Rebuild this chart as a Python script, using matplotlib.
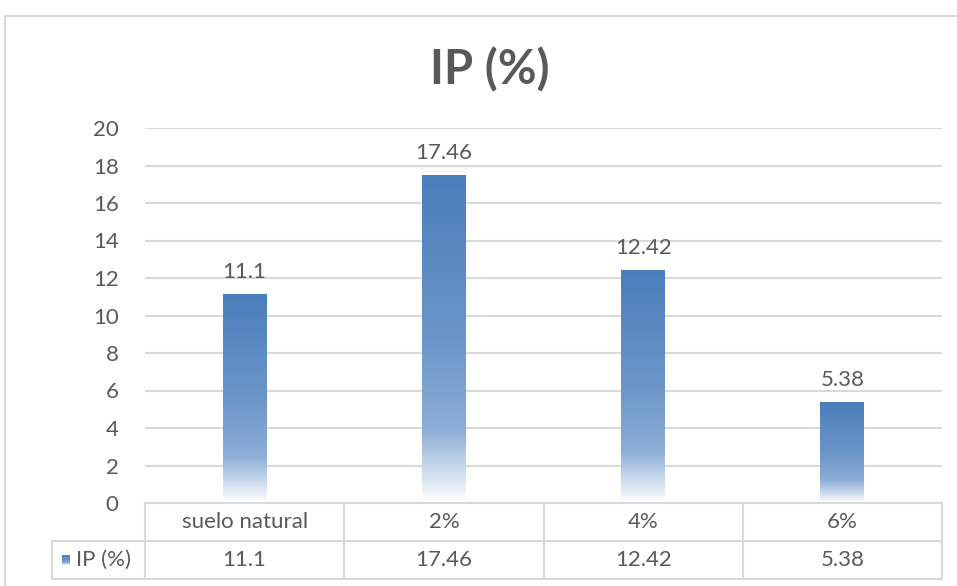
import numpy as np
import matplotlib
matplotlib.use("Agg")
import matplotlib.pyplot as plt
from matplotlib.colors import LinearSegmentedColormap
from matplotlib.patches import Rectangle

plt.rcParams['font.family'] = ['Lato', 'DejaVu Sans']

# Data
categories = ["suelo natural", "2%", "4%", "6%"]
ip_values = [11.1, 17.46, 12.42, 5.38]
value_labels = ["11.1", "17.46", "12.42", "5.38"]
series_name = "IP (%)"
y_ticks = [0, 2, 4, 6, 8, 10, 12, 14, 16, 18, 20]

TXT = "#595959"
GRID = "#d9d9d9"
FS = 16

W, H = 957, 586
fig = plt.figure(figsize=(W / 100, H / 100), dpi=100)

def fx(px):
    return px / W

def fy(py):
    return 1 - py / H

# outer chart frame
fig.patches.append(Rectangle((fx(5), fy(700)), fx(1100), (700 - 16) / H,
                             transform=fig.transFigure, fill=False,
                             edgecolor=GRID, linewidth=1.5))

left, right, top, bottom = 145, 942, 128, 503
ax = fig.add_axes([fx(left), fy(bottom), fx(right - left), (bottom - top) / H])

# gradient: dark blue at the top of the bar, fading to white at the base
cmap = LinearSegmentedColormap.from_list(
    "bar", [(0.0, "#4a7ebb"), (0.5, "#6b96c9"), (0.78, "#8eaed7"), (1.0, "#ffffff")])
grad = np.linspace(0, 1, 256).reshape(-1, 1)

x = np.arange(len(categories))
bars = ax.bar(x, ip_values, width=0.22, color="none", edgecolor="none", zorder=3)
for b in bars:
    x0, w, h = b.get_x(), b.get_width(), b.get_height()
    ax.imshow(grad, cmap=cmap, aspect="auto", extent=(x0, x0 + w, 0, h),
              origin="upper", zorder=3, interpolation="bilinear")

for xi, v, lab in zip(x, ip_values, value_labels):
    ax.annotate(lab, (xi, v), xytext=(0, 9), textcoords="offset points",
                ha="center", va="bottom", fontsize=FS, color=TXT)

ax.set_xlim(-0.5, len(categories) - 0.5)
ax.set_ylim(0, 20)
ax.set_yticks(y_ticks)
ax.set_xticks([])
ax.yaxis.grid(True, color=GRID, linewidth=1.5)
ax.set_axisbelow(True)
for s in ax.spines.values():
    s.set_visible(False)
ax.tick_params(axis="y", length=0, pad=19, labelsize=FS, labelcolor=TXT)

fig.text(fx(490), fy(70), "IP (%)", fontsize=34, fontweight="bold",
         color=TXT, ha="center", va="center")

# data table under the plot
tab = fig.add_axes([fx(left), fy(579), fx(right - left), (579 - bottom) / H])
hdr = -0.5 - (left - 52) / ((right - left) / len(categories))
lk = dict(color=GRID, linewidth=1.5, clip_on=False)
tab.plot([-0.5, len(categories) - 0.5], [2, 2], **lk)
tab.plot([hdr, len(categories) - 0.5], [1, 1], **lk)
tab.plot([hdr, len(categories) - 0.5], [0, 0], **lk)
tab.plot([hdr, hdr], [0, 1], **lk)
for b in np.arange(len(categories) + 1) - 0.5:
    tab.plot([b, b], [0, 2], **lk)
for xi, cat, lab in zip(x, categories, value_labels):
    tab.text(xi, 1.5, cat, ha="center", va="center", fontsize=FS, color=TXT)
    tab.text(xi, 0.5, lab, ha="center", va="center", fontsize=FS, color=TXT)

# legend key in the header cell
key_w = 0.04
tab.imshow(grad, cmap=cmap, aspect="auto", origin="upper", clip_on=False,
           extent=(hdr + 0.05, hdr + 0.05 + key_w, 0.38, 0.62), zorder=3)
tab.set_xlim(-0.5, len(categories) - 0.5)
tab.set_ylim(0, 2)
tab.axis("off")
tab.text(hdr + 0.12, 0.5, series_name, ha="left", va="center", fontsize=FS, color=TXT)

fig.savefig("out.png", dpi=100)
